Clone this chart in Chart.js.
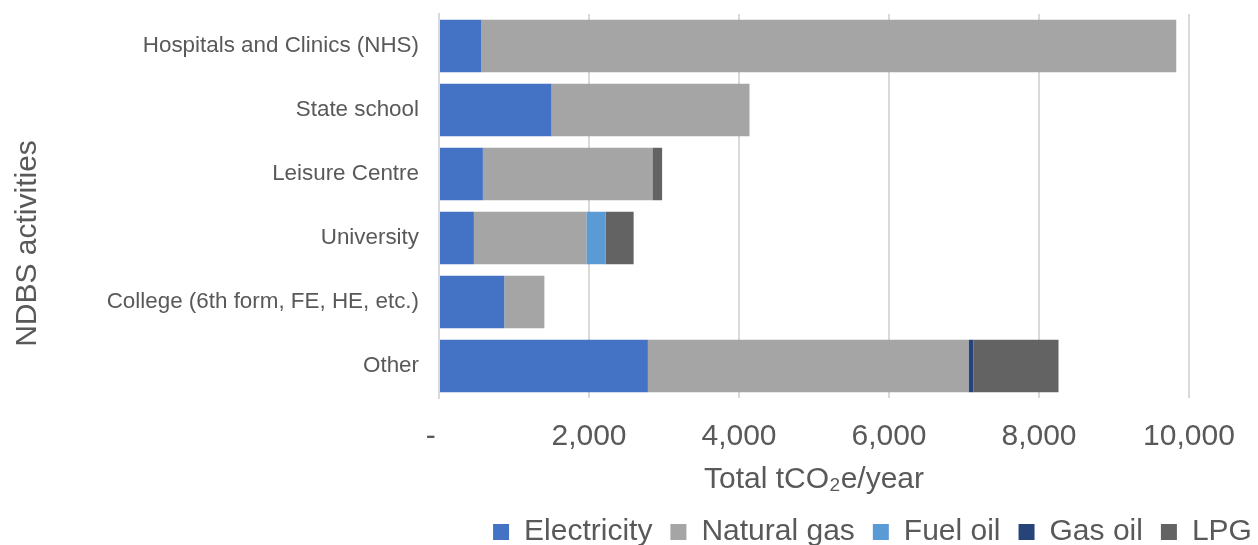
<!DOCTYPE html>
<html>
<head>
<meta charset="utf-8">
<script src="https://cdn.jsdelivr.net/npm/chart.js@4.4.1/dist/chart.umd.min.js"></script>
<style>
  html, body { margin: 0; padding: 0; background: #ffffff; }
  canvas { display: block; }
</style>
</head>
<body>
<canvas id="chart" width="1258" height="545"></canvas>
<script>
// Emissions by NDBS activity, tCO2e per year, split by fuel
const categories = [
  'Hospitals and Clinics (NHS)',
  'State school',
  'Leisure Centre',
  'University',
  'College (6th form, FE, HE, etc.)',
  'Other'
];
const electricity = [560, 1500, 585, 465, 870, 2785];
const naturalGas  = [9270, 2640, 2260, 1500, 535, 4275];
const fuelOil     = [0, 0, 0, 255, 0, 0];
const gasOil      = [0, 0, 0, 0, 0, 65];
const lpg         = [0, 0, 130, 375, 0, 1135];

const FONT = "'Liberation Sans', Arial, sans-serif";
const TEXT = '#595959';
const GRID = '#D9D9D9';

// nudges the legend row sideways / downwards after layout
const legendOffset = {
  id: 'legendOffset',
  afterLayout(chart, args, opts) {
    const lg = chart.legend;
    if (!lg) return;
    lg.left += opts.dx; lg.right += opts.dx;
    lg.top += opts.dy; lg.bottom += opts.dy;
  }
};

new Chart(document.getElementById('chart'), {
  type: 'bar',
  data: {
    labels: categories,
    datasets: [
      { label: 'Electricity', data: electricity, backgroundColor: '#4472C4' },
      { label: 'Natural gas', data: naturalGas, backgroundColor: '#A5A5A5' },
      { label: 'Fuel oil', data: fuelOil, backgroundColor: '#5B9BD5' },
      { label: 'Gas oil', data: gasOil, backgroundColor: '#264478' },
      { label: 'LPG', data: lpg, backgroundColor: '#636363' }
    ]
  },
  plugins: [legendOffset],
  options: {
    indexAxis: 'y',
    responsive: false,
    animation: false,
    devicePixelRatio: 1,
    layout: { padding: { top: 14, right: 69, bottom: -11, left: 0 } },
    datasets: {
      bar: { categoryPercentage: 1, barPercentage: 0.82, borderWidth: 0 }
    },
    scales: {
      x: {
        stacked: true,
        min: 0,
        max: 10000,
        ticks: {
          stepSize: 2000,
          padding: 21,
          color: TEXT,
          font: { family: FONT, size: 30 },
          callback: v => v === 0 ? '-  ' : v.toLocaleString('en-GB')
        },
        grid: { color: GRID, lineWidth: 2, drawTicks: false },
        border: { display: false },
        title: {
          display: true,
          text: 'Total tCO\u2082e/year',
          color: TEXT,
          font: { family: FONT, size: 30 },
          padding: { top: 0, bottom: 0 }
        },
        afterFit(scale) { scale.height = 100; }
      },
      y: {
        stacked: true,
        ticks: {
          padding: 20,
          color: TEXT,
          font: { family: FONT, size: 22.4 }
        },
        grid: { display: false, drawTicks: false },
        border: { display: true, color: GRID, width: 2 },
        title: {
          display: true,
          text: 'NDBS activities         ',
          color: TEXT,
          font: { family: FONT, size: 30 },
          padding: { top: 10, bottom: 0 }
        },
        afterFit(scale) {
          scale.width = 439;
          scale.paddingTop = 0;
          scale.paddingBottom = 0;
        }
      }
    },
    plugins: {
      legend: {
        position: 'bottom',
        labels: {
          boxWidth: 16,
          boxHeight: 16,
          padding: 18,
          color: TEXT,
          font: { family: FONT, size: 30 }
        }
      },
      legendOffset: { dx: 278, dy: 1 },
      tooltip: { enabled: false }
    }
  }
});
</script>
</body>
</html>
